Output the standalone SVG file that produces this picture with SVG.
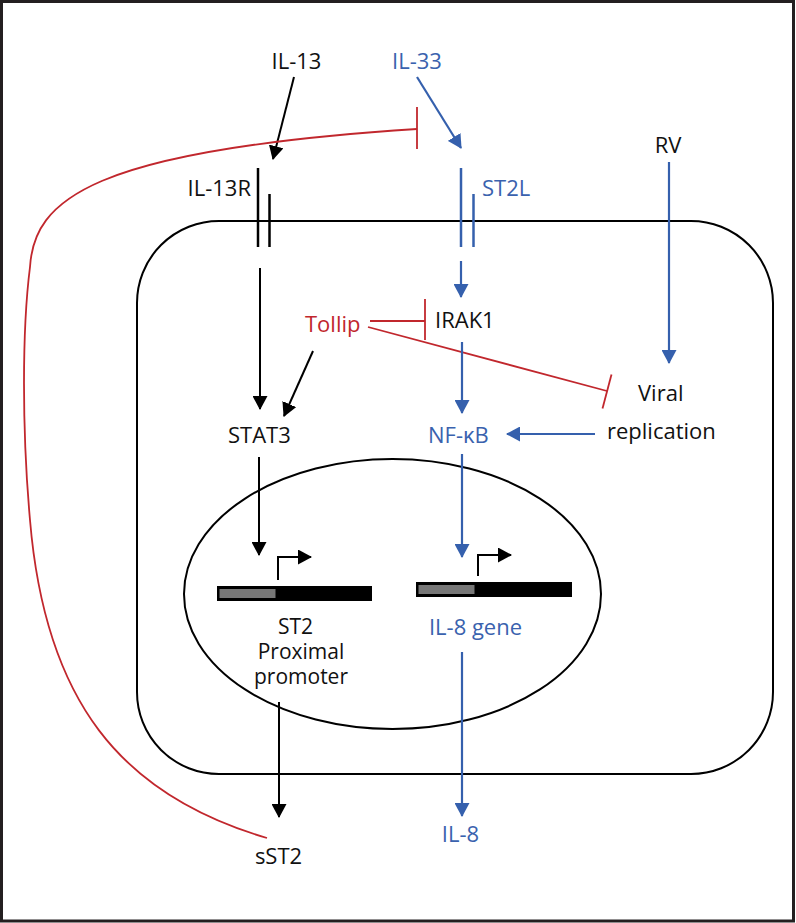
<svg xmlns="http://www.w3.org/2000/svg" width="796" height="923" viewBox="0 0 796 923">
<style>
text{font-family:"Open Sans","Noto Sans","DejaVu Sans",sans-serif;font-size:22px;fill:#111}
.s{font-size:21px}
.b{fill:#3a62ae}
.r{fill:#c1272d}
.k{stroke:#000;stroke-width:2;fill:none}
.bl{stroke:#3560ad;stroke-width:2.2;fill:none}
.rd{stroke:#c1272d;stroke-width:1.8;fill:none}
.ka{marker-end:url(#ak)}
.ba{marker-end:url(#ab)}
</style>
<defs>
<marker id="ak" viewBox="0 0 14 15" refX="13" refY="7.5" markerWidth="14" markerHeight="15" markerUnits="userSpaceOnUse" orient="auto"><path d="M0,0 L14,7.5 L0,15 z" fill="#000"/></marker>
<marker id="ab" viewBox="0 0 14 15" refX="13" refY="7.5" markerWidth="14" markerHeight="15" markerUnits="userSpaceOnUse" orient="auto"><path d="M0,0 L14,7.5 L0,15 z" fill="#3560ad"/></marker>
</defs>
<rect x="0" y="0" width="796" height="923" fill="#fff"/>
<rect x="1.5" y="1.5" width="792" height="919.5" fill="none" stroke="#231f20" stroke-width="3"/>
<g id="cell"><rect x="137" y="221" width="636" height="553" rx="82" ry="82" class="k"/></g>
<g id="nucleus"><ellipse cx="392.5" cy="594" rx="208.5" ry="135" class="k"/></g>
<g id="connectors">
<line x1="294" y1="77" x2="273" y2="159" class="k ka"/>
<line x1="417" y1="77" x2="461" y2="148" class="bl ba"/>
<path d="M267,838 C120,795 45,700 30,520 C22,430 22,330 30,267 C34,200 90,150 417,129" class="rd"/>
<line x1="417" y1="107" x2="417" y2="149" class="rd"/>
<line x1="258" y1="168" x2="258" y2="247" stroke="#000" stroke-width="2.5"/>
<line x1="269.5" y1="194" x2="269.5" y2="247" stroke="#000" stroke-width="2.5"/>
<line x1="461" y1="168" x2="461" y2="247" stroke="#3560ad" stroke-width="2.5"/>
<line x1="473.5" y1="194" x2="473.5" y2="247" stroke="#3560ad" stroke-width="2.5"/>
<line x1="461" y1="261" x2="461" y2="297" class="bl ba"/>
<line x1="260" y1="268" x2="260" y2="409" class="k ka"/>
<line x1="313" y1="351" x2="284" y2="416" class="k ka"/>
<line x1="370" y1="321" x2="425" y2="321" class="rd"/>
<line x1="425" y1="299" x2="425" y2="340" class="rd"/>
<line x1="368" y1="327" x2="607" y2="391" class="rd"/>
<line x1="611.5" y1="374.5" x2="602.5" y2="408.5" class="rd"/>
<line x1="669" y1="162" x2="669" y2="363" class="bl ba"/>
<line x1="462" y1="342" x2="462" y2="413" class="bl ba"/>
<line x1="595" y1="434" x2="507" y2="434" class="bl ba"/>
<line x1="462" y1="454" x2="462" y2="557" class="bl ba"/>
<line x1="259" y1="457" x2="259" y2="555" class="k ka"/>
<line x1="462" y1="652" x2="462" y2="816" class="bl ba"/>
<line x1="279" y1="702" x2="279" y2="817" class="k ka"/>
</g>
<g id="st2gene">
<rect x="218" y="587" width="153" height="13" fill="#000" stroke="#000" stroke-width="2"/>
<rect x="219.5" y="589" width="56" height="9" fill="#777"/>
<path d="M278,580 V557 H311" class="k ka"/>
</g>
<g id="il8gene">
<rect x="417" y="583" width="154" height="13" fill="#000" stroke="#000" stroke-width="2"/>
<rect x="418.5" y="585" width="56" height="9" fill="#777"/>
<path d="M478,576 V555 H511" class="k ka"/>
</g>
<g id="labels">
<text x="296.5" y="69" text-anchor="middle">IL-13</text>
<text x="417" y="69" text-anchor="middle" class="b">IL-33</text>
<text x="251" y="196" text-anchor="end">IL-13R</text>
<text x="482" y="196" class="b">ST2L</text>
<text x="668" y="153" text-anchor="middle">RV</text>
<text x="305" y="332" class="r">Tollip</text>
<text x="435" y="328">IRAK1</text>
<text x="228" y="443">STAT3</text>
<text x="428" y="443" class="b">NF-κB</text>
<text x="638" y="401">Viral</text>
<text x="607" y="439">replication</text>
<text x="295.5" y="634" text-anchor="middle" class="s">ST2</text>
<text x="301" y="659" text-anchor="middle" class="s">Proximal</text>
<text x="301" y="684" text-anchor="middle" class="s">promoter</text>
<text x="475.5" y="635" text-anchor="middle" class="b">IL-8 gene</text>
<text x="460.5" y="842" text-anchor="middle" class="b">IL-8</text>
<text x="278.5" y="864" text-anchor="middle">sST2</text>
</g>
</svg>
